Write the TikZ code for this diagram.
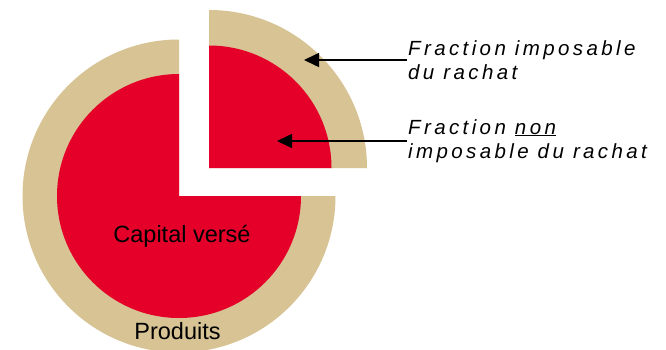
\documentclass[tikz,border=0pt]{standalone}
\usepackage{fontspec}
\setmainfont{Liberation Sans}
\newfontfamily\lblfont[LetterSpace=16.5]{Liberation Sans}
\usetikzlibrary{arrows.meta, positioning}
\definecolor{sable}{RGB}{215,195,148}
\definecolor{rouge}{RGB}{228,0,40}
\tikzset{
  ring/.style={fill=sable},
  core/.style={fill=rouge},
  pielabel/.style={inner sep=0pt,font=\fontsize{23.5}{28}\selectfont},
  sidelabel/.style={align=left,inner sep=1pt,anchor=west,font=\lblfont\itshape\fontsize{20.5}{24.5}\selectfont},
  line/.style={-{Triangle[length=15pt,width=14pt]},line width=1.5pt}
}
\begin{document}
\begin{tikzpicture}[x=1pt,y=1pt]
\useasboundingbox (0,0) rectangle (666,349);
\coordinate (c) at (179,153);
\coordinate (q) at (209,181);
\fill[ring] (c) -- ++(90:156.5) arc[start angle=90, end angle=360, radius=156.5] -- cycle;
\fill[core] (c) -- ++(90:122) arc[start angle=90, end angle=360, radius=122] -- cycle;
\fill[ring] (q) -- ++(0:158) arc[start angle=0, end angle=90, radius=158] -- cycle;
\fill[core] (q) -- ++(0:122.5) arc[start angle=0, end angle=90, radius=122.5] -- cycle;
\node[pielabel, anchor=base] (capital) at (182,107) {Capital versé};
\node[pielabel, anchor=base] (produits) at (177.5,10) {Produits};
\node[sidelabel] (imposable) at (407,289) {Fraction imposable\\du rachat};
\node[sidelabel] (nonimposable) at (407,208) {Fraction \underline{non}\\imposable du rachat};
\coordinate (tipring) at (304,289);
\coordinate (tipcore) at (277,208);
\draw[line] (imposable) -- (tipring);
\draw[line] (nonimposable) -- (tipcore);
\end{tikzpicture}
\end{document}
